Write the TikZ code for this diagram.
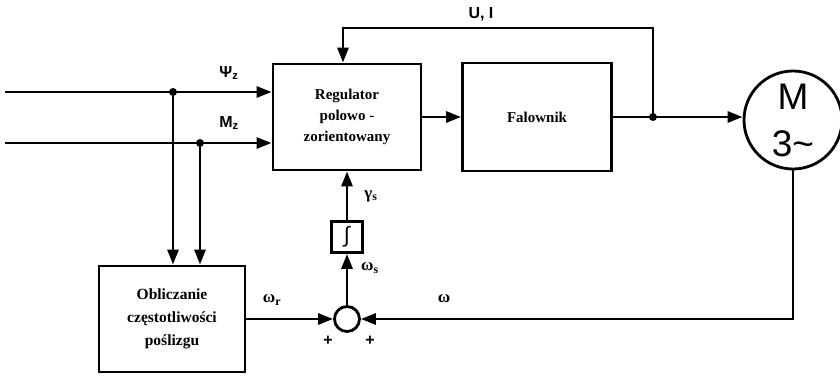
\documentclass[tikz,border=0pt]{standalone}
\usepackage{fontspec}
\setmainfont{Liberation Serif}
\newfontfamily\lab{Liberation Sans}
\usetikzlibrary{arrows.meta,calc}
\begin{document}
\begin{tikzpicture}[x=1pt,y=-1pt,
  line width=2.8pt,
  arr/.style={-{Triangle[length=15pt,width=11pt]}},
  blk/.style={draw, rectangle, line width=2.8pt, font=\bfseries\fontsize{15}{21}\selectfont, align=center, inner sep=0pt},
  lbl/.style={font=\lab\bfseries\fontsize{16}{18}\selectfont, inner sep=0pt},
  glbl/.style={font=\bfseries\fontsize{17}{18}\selectfont, inner sep=0pt},
  dot/.style={circle, fill, inner sep=0pt, minimum size=8pt}]
\useasboundingbox (0,0) rectangle (840,375);
% blocks
\node[blk, minimum width=148pt, minimum height=106pt] (reg) at (347,117) {Regulator\\polowo -\\zorientowany};
\node[blk, minimum width=149pt, minimum height=108pt] (fal) at (537,117) {Falownik};
\node[draw, circle, line width=2.8pt, minimum size=98pt, inner sep=0pt, align=center,
      font=\lab\fontsize{37}{47}\selectfont] (motor) at (793,120) {M\\3\textasciitilde};
\node[blk, minimum width=146pt, minimum height=106pt, font=\bfseries\fontsize{15.5}{23}\selectfont] (obl) at (172,319) {Obliczanie\\częstotliwości\\poślizgu};
\node[blk, minimum width=31pt, minimum height=31pt, font=\lab\fontsize{22}{24}\selectfont] (integ) at (347,237) {∫};
\node[draw, circle, line width=2.8pt, minimum size=25pt, inner sep=0pt] (sum) at (347,319) {};
% inputs and junctions
\coordinate (in1) at (5,92);
\coordinate (in2) at (5,143);
\node[dot] (d1) at (173,92) {};
\node[dot] (d2) at (200,143) {};
\node[dot] (d3) at (653,117) {};
\coordinate (ui) at (343,28);
% connectors
\draw[arr] (in1) -- (in1 -| reg.west);
\draw[arr] (in2) -- (in2 -| reg.west);
\draw[arr] (d1.center) -- (d1.center |- obl.north);
\draw[arr] (d2.center) -- (d2.center |- obl.north);
\draw[arr] (reg.east) -- (fal.west);
\draw[arr] (fal.east) -- (fal.east -| motor.west);
\draw[arr] (d3.center) |- (ui) -- (ui |- reg.north);
\draw[arr] (motor.south) -- (motor.south |- sum.east) -- (sum.east);
\draw[arr] (obl.east) -- (sum.west);
\draw[arr] (sum.north) -- (integ.south);
\draw[arr] (integ.north) -- (reg.south);
% labels
\node[lbl] (lpsi) at (229,73) {Ψ\textsubscript{z}};
\node[lbl] (lmz) at (229,123) {M\textsubscript{z}};
\node[lbl] (lui) at (481,14) {U, I};
\node[glbl] (lgam) at (371,196) {γ\textsubscript{s}};
\node[glbl] (lws) at (370,268) {ω\textsubscript{s}};
\node[glbl] (lwr) at (272,300) {ω\textsubscript{r}};
\node[glbl] (lw) at (444,299) {ω};
\node[lbl] (p1) at (328,341) {+};
\node[lbl] (p2) at (370,341) {+};
\end{tikzpicture}
\end{document}
